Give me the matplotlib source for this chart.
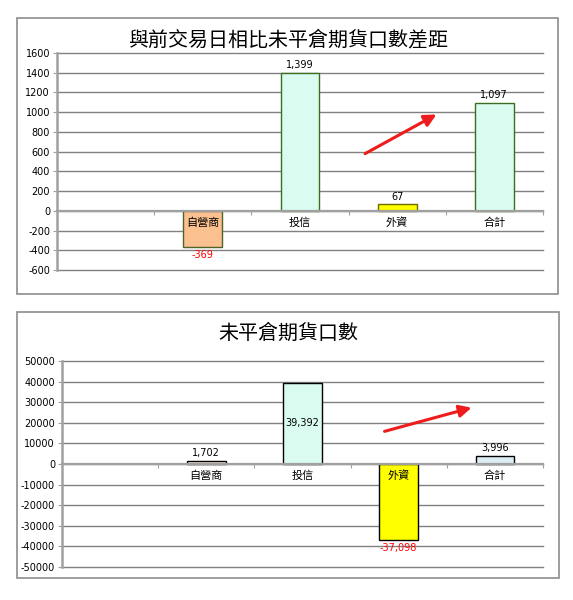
import numpy as np
import matplotlib
matplotlib.use("Agg")
import matplotlib.pyplot as plt
from matplotlib.patches import Rectangle

plt.rcParams['font.family'] = ['Noto Sans CJK TC', 'DejaVu Sans']

# data
categories = ['自營商', '投信', '外資', '合計']
diff_values = [-369, 1399, 67, 1097]
oi_values = [1702, 39392, -37098, 3996]

title_diff = '與前交易日相比未平倉期貨口數差距'
title_oi = '未平倉期貨口數'

diff_ticks = list(range(-600, 1601, 200))
oi_ticks = list(range(-50000, 50001, 10000))

diff_colors = ['#FAC090', '#DAFBEF', '#FFFF00', '#DAFBEF']
diff_edges = ['#4F6228', '#3B6E1E', '#6B6B00', '#3B6E1E']
oi_colors = ['#FDEADA', '#DAFBEF', '#FFFF00', '#DBEEF4']
oi_edges = ['#000000'] * 4

fig = plt.figure(figsize=(5.73, 6.0), dpi=100)

# panel borders
for (x0, y0, w, h) in [(0.0297, 0.51, 0.944, 0.46), (0.0297, 0.0367, 0.946, 0.443)]:
    fig.patches.append(Rectangle((x0, y0), w, h, transform=fig.transFigure,
                                 fill=False, ec='#8c8c8c', lw=1.2, zorder=0))


def draw(ax, vals, colors, edges, ticks, title, title_y, inside_idx=None,
         arrow=None):
    x = np.arange(len(vals)) + 1
    ax.set_xlim(-0.5, len(vals) + 0.5)
    ax.set_ylim(ticks[0], ticks[-1])
    ax.set_yticks(ticks)
    ax.set_yticklabels([str(t) for t in ticks], fontsize=7, family='DejaVu Sans')
    for t in ticks:
        ax.axhline(t, color='#808080', lw=1.0, zorder=1, clip_on=False)
    ax.bar(x, vals, width=0.4, color=colors, edgecolor=edges, lw=1.0, zorder=3)

    span = ticks[-1] - ticks[0]
    for i, (xi, v) in enumerate(zip(x, vals)):
        s = f'{v:,}'
        if i == inside_idx:
            ax.text(xi, v / 2, s, ha='center', va='center', fontsize=7,
                    family='DejaVu Sans', zorder=5)
        elif v >= 0:
            ax.text(xi, v + span * 0.012, s, ha='center', va='bottom',
                    fontsize=7, family='DejaVu Sans', zorder=5)
        else:
            ax.text(xi, v - span * 0.012, s, ha='center', va='top',
                    fontsize=7, family='DejaVu Sans', color='#FF0000', zorder=5)
        ax.text(xi, -span * 0.03, categories[i], ha='center', va='top',
                fontsize=8, zorder=5)

    for side in ['top', 'right']:
        ax.spines[side].set_visible(False)
    ax.spines['left'].set_color('#a0a0a0')
    ax.spines['left'].set_linewidth(1.8)
    ax.spines['bottom'].set_position(('data', 0))
    ax.spines['bottom'].set_color('#a0a0a0')
    ax.spines['bottom'].set_linewidth(1.6)
    ax.spines['bottom'].set_zorder(4)
    ax.set_xticks(np.arange(len(vals) + 1) + 0.5)
    ax.set_xticklabels([])
    ax.tick_params(axis='x', length=3, color='#a0a0a0', direction='out')
    ax.tick_params(axis='y', length=3, color='#a0a0a0', pad=2)
    ax.patch.set_alpha(0)

    fig.text(0.503, title_y, title, ha='center', va='center', fontsize=14.4)

    if arrow is not None:
        (x0, y0), (x1, y1) = arrow
        ax.annotate('', xy=(x1, y1), xytext=(x0, y0), xycoords='axes fraction',
                    textcoords='axes fraction',
                    arrowprops=dict(arrowstyle='-|>', color='#EE1C1C', lw=2.2,
                                    mutation_scale=18), zorder=6)


ax1 = fig.add_axes([0.0995, 0.55, 0.848, 0.3617])
draw(ax1, diff_values, diff_colors, diff_edges, diff_ticks, title_diff, 0.933,
     arrow=((0.629, 0.53), (0.786, 0.723)))

ax2 = fig.add_axes([0.1082, 0.055, 0.8394, 0.3433])
draw(ax2, oi_values, oi_colors, oi_edges, oi_ticks, title_oi, 0.445,
     inside_idx=1, arrow=((0.665, 0.655), (0.857, 0.777)))

fig.savefig('out.png', dpi=100, facecolor='white')
